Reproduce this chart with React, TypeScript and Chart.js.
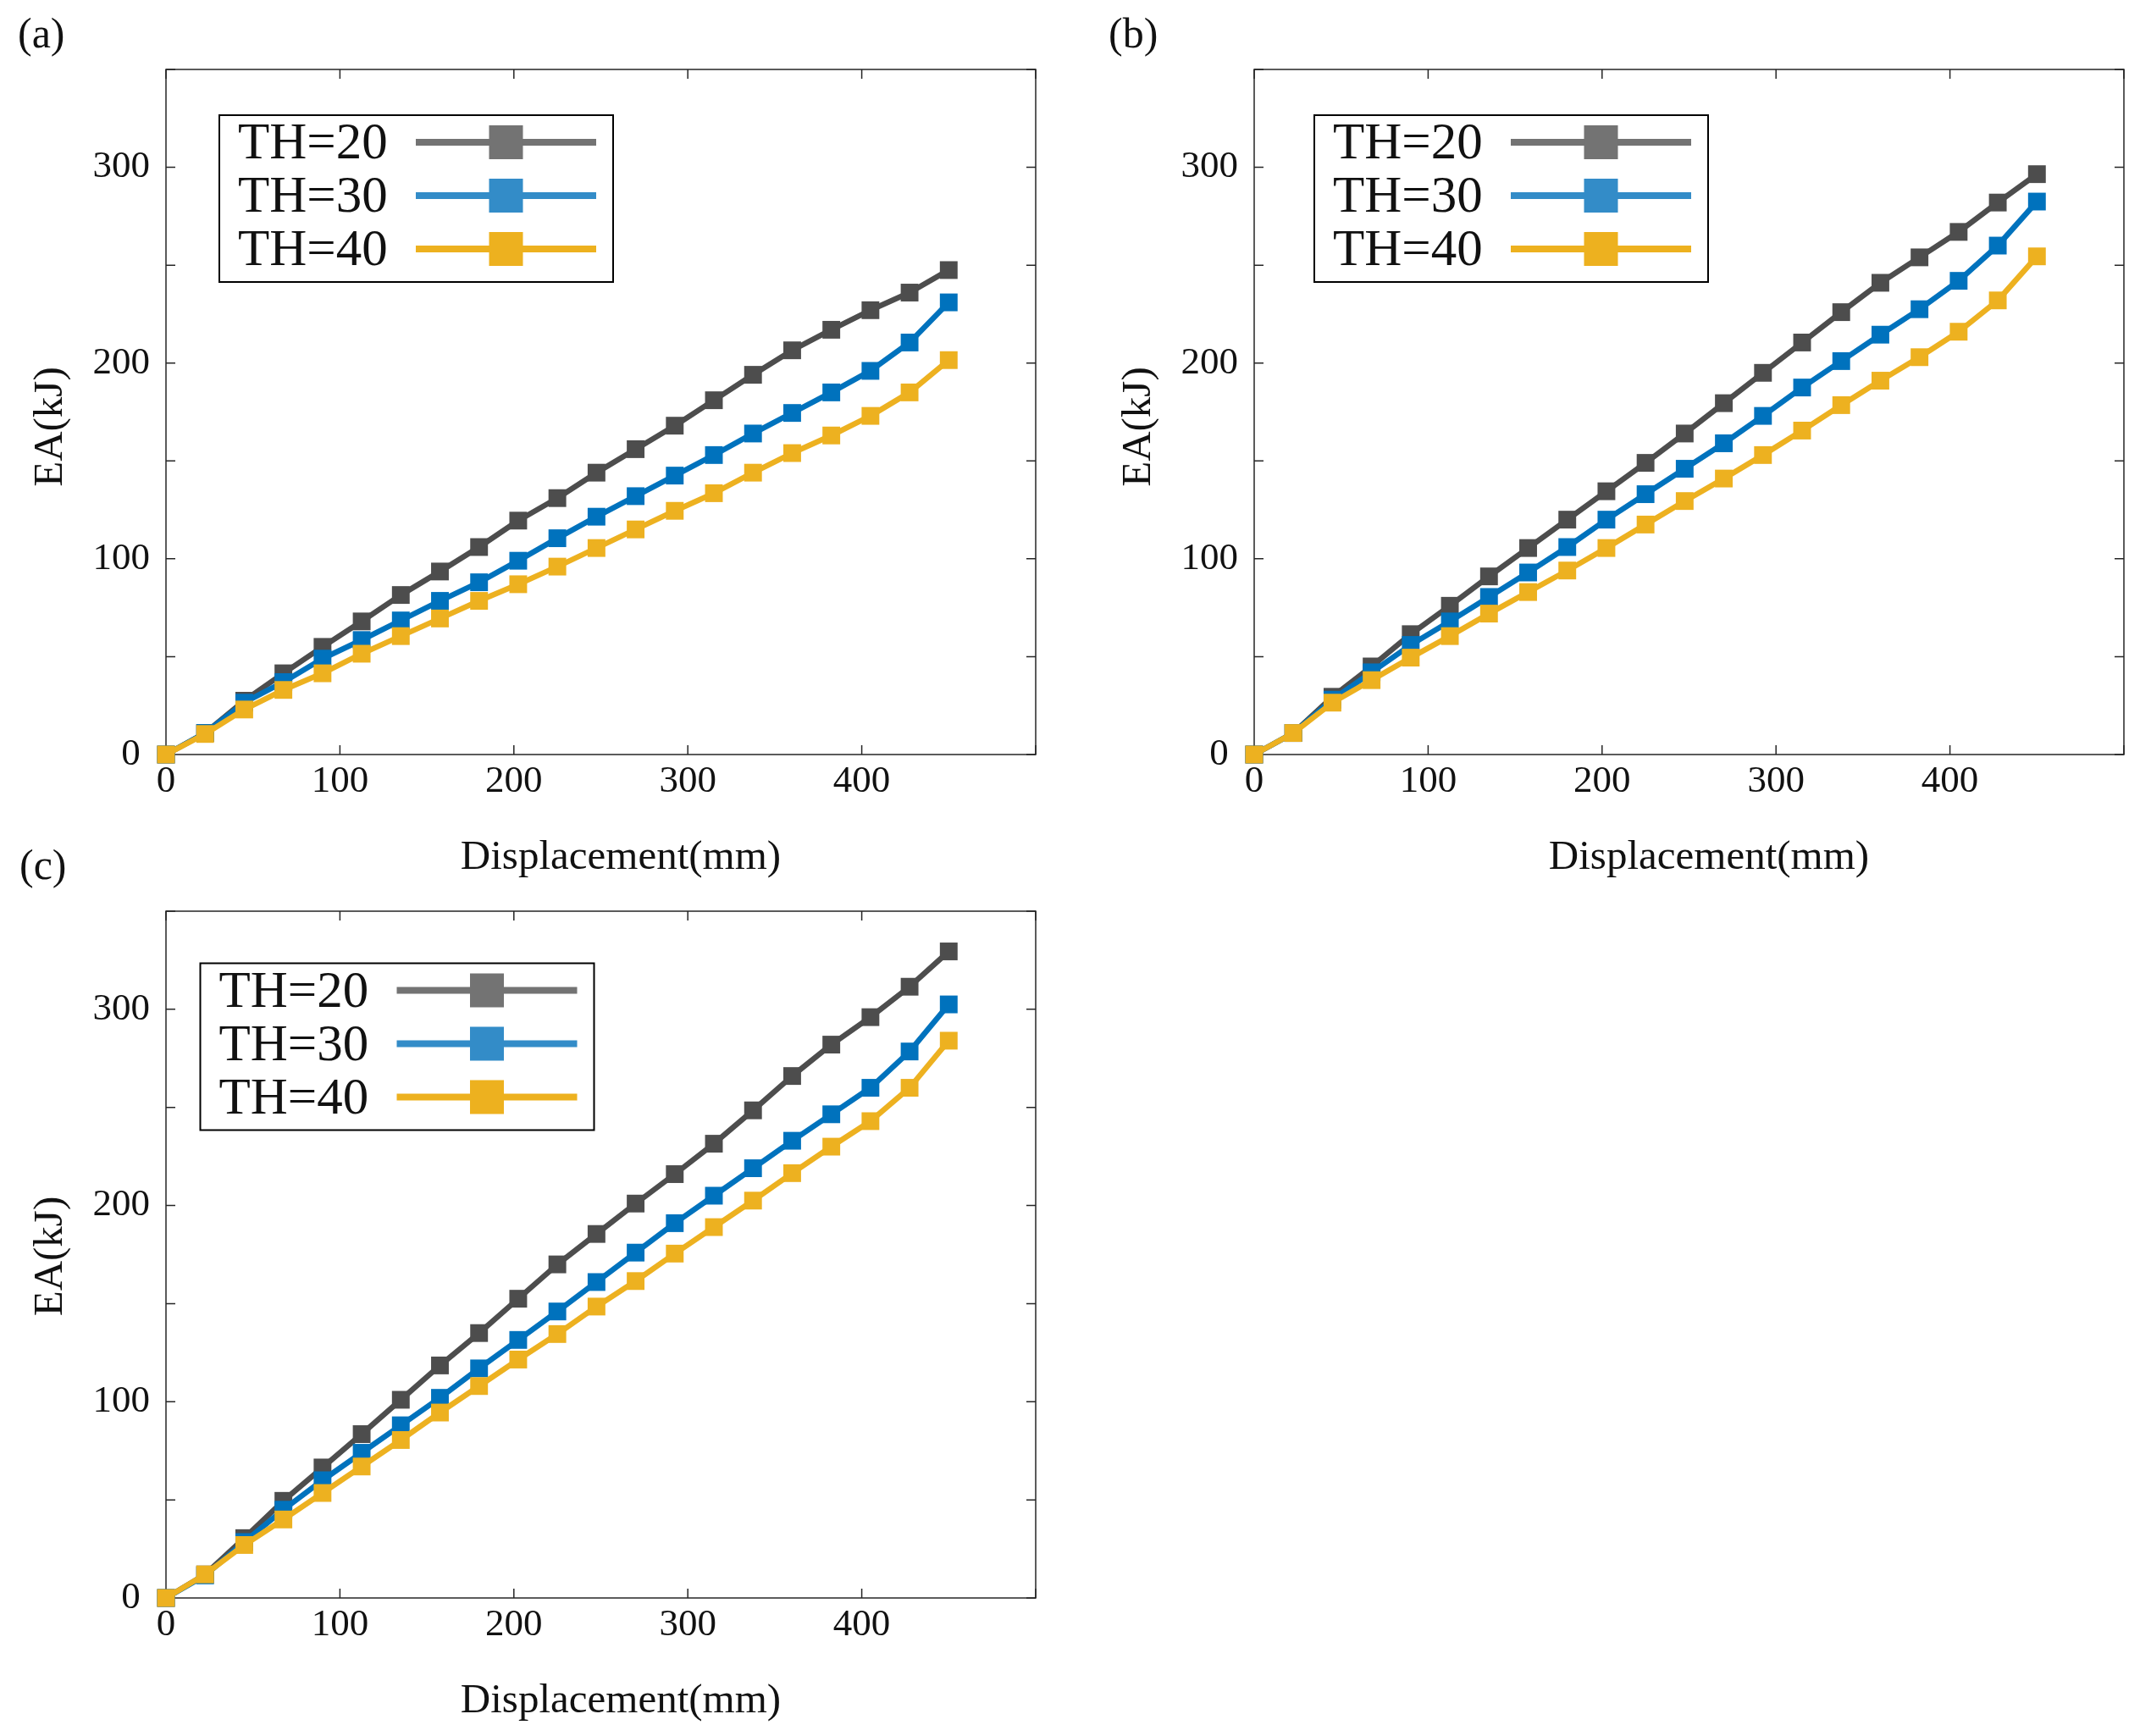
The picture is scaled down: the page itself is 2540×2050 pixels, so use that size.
import React, { useEffect, useRef } from 'react';
import { Chart, registerables } from 'chart.js';

Chart.register(...registerables);

// ---------------- data ----------------
const displacement = [0, 22.5, 45, 67.5, 90, 112.5, 135, 157.5, 180, 202.5, 225, 247.5, 270, 292.5, 315, 337.5, 360, 382.5, 405, 427.5, 450];

const seriesLabels = ['TH=20', 'TH=30', 'TH=40'];

const panelA_TH20 = [0, 11, 27.5, 41.5, 55, 68, 81.5, 93.5, 106, 119.5, 131, 144, 156, 168, 181, 194, 206.5, 217, 227, 236, 247.5];
const panelA_TH30 = [0, 11, 26.5, 37, 49, 58.5, 68.5, 78.5, 88, 99, 110.5, 121.5, 132, 142.5, 153, 164, 174.5, 185, 196, 210.5, 231];
const panelA_TH40 = [0, 10.5, 23, 33, 41.5, 51.5, 60.5, 69.5, 78.5, 87, 96, 105.5, 115, 124.5, 133.5, 144, 154, 163, 173, 185, 201.5];

const panelB_TH20 = [0, 11, 29.5, 45, 61.5, 76, 91, 105.5, 120, 134.5, 149, 164, 179.5, 195, 210.5, 226, 241, 254, 267, 282, 296.5];
const panelB_TH30 = [0, 11, 28, 42, 56, 68, 80.5, 93, 106, 120, 133, 146, 159, 173, 187.5, 201, 214.5, 227.5, 242, 260, 282.5];
const panelB_TH40 = [0, 11, 26.5, 38, 49.5, 60.5, 72, 83, 94, 105.5, 117.5, 129.5, 141, 153, 165.5, 178.5, 191, 203, 216, 232, 254.5];

const panelC_TH20 = [0, 12, 30.5, 49.5, 66.5, 83.5, 101, 118.5, 135, 152.5, 170, 185.5, 201, 216, 231.5, 248.5, 266, 282, 296, 311.5, 329.5];
const panelC_TH30 = [0, 11.5, 28.5, 45, 60, 74, 88, 102, 117, 131.5, 146, 161, 176, 191, 205, 219, 233, 246.5, 260, 278.5, 302.5];
const panelC_TH40 = [0, 12, 27, 40, 53.5, 67, 80.5, 94.5, 108, 121.5, 134.5, 148.5, 161.5, 175.5, 189, 202.5, 216.5, 230, 243, 260, 284];

const xTitle = 'Displacement(mm)';
const yTitle = 'EA(kJ)';
const xMin = 0;
const xMax = 500;
const xStep = 100;
const xLabelMax = 400;
const yMin = 0;
const yMax = 350;
const yStep = 50;
const yLabelStep = 100;

// ---------------- styles ----------------
const FONT = "'Liberation Serif', 'DejaVu Serif', serif";
const lineColors = ['#4D4D4D', '#0072BD', '#EDB120'];
const legendColors = ['#737373', '#338CC8', '#EDB11F'];
const AXIS_COLOR = '#262626';
const TEXT_COLOR = '#111111';
const TICK_LEN = 11;

type Panel = {
  label: string;
  series: number[][];
  left: number; top: number; w: number; h: number;
  area: { l: number; t: number; r: number; b: number };
  legend: { dx: number; dy: number };
  yTitleDy: number;
  labelPos: { x: number; y: number };
};

const panels: Panel[] = [
  {
    label: '(a)', series: [panelA_TH20, panelA_TH30, panelA_TH40],
    left: 0, top: 0, w: 1270, h: 1040,
    area: { l: 196, t: 82, r: 1223, b: 891 },
    legend: { dx: 63, dy: 54 }, yTitleDy: 17.5,
    labelPos: { x: 21, y: 56 },
  },
  {
    label: '(b)', series: [panelB_TH20, panelB_TH30, panelB_TH40],
    left: 1270, top: 0, w: 1270, h: 1040,
    area: { l: 211, t: 82, r: 1238, b: 891 },
    legend: { dx: 71, dy: 54 }, yTitleDy: 17.5,
    labelPos: { x: 39, y: 56 },
  },
  {
    label: '(c)', series: [panelC_TH20, panelC_TH30, panelC_TH40],
    left: 0, top: 960, w: 1270, h: 1090,
    area: { l: 196, t: 116, r: 1223, b: 927 },
    legend: { dx: 40.5, dy: 61.5 }, yTitleDy: 2,
    labelPos: { x: 23, y: 78 },
  },
];

function makePlugin(p: Panel) {
  return {
    id: 'frameAndLegend',
    beforeDatasetsDraw(chart: any) {
      const { ctx, chartArea: a, scales } = chart;
      ctx.save();
      ctx.strokeStyle = AXIS_COLOR;
      ctx.lineWidth = 1.5;
      ctx.strokeRect(a.left, a.top, a.right - a.left, a.bottom - a.top);
      ctx.beginPath();
      scales.x.ticks.forEach((t: any) => {
        const px = scales.x.getPixelForValue(t.value);
        ctx.moveTo(px, a.bottom);
        ctx.lineTo(px, a.bottom - TICK_LEN);
        ctx.moveTo(px, a.top);
        ctx.lineTo(px, a.top + TICK_LEN);
      });
      scales.y.ticks.forEach((t: any) => {
        const py = scales.y.getPixelForValue(t.value);
        ctx.moveTo(a.left, py);
        ctx.lineTo(a.left + TICK_LEN, py);
        ctx.moveTo(a.right, py);
        ctx.lineTo(a.right - TICK_LEN, py);
      });
      ctx.stroke();
      ctx.restore();
    },
    afterDatasetsDraw(chart: any) {
      const { ctx, chartArea: a } = chart;
      const bx = a.left + p.legend.dx;
      const by = a.top + p.legend.dy;
      const bw = 465;
      const bh = 197;
      ctx.save();
      ctx.fillStyle = '#ffffff';
      ctx.fillRect(bx, by, bw, bh);
      ctx.strokeStyle = '#000000';
      ctx.lineWidth = 2;
      ctx.strokeRect(bx, by, bw, bh);
      const rows = [32, 95, 158];
      seriesLabels.forEach((lab, i) => {
        const cy = by + rows[i];
        ctx.fillStyle = TEXT_COLOR;
        ctx.font = `61px ${FONT}`;
        ctx.textAlign = 'left';
        ctx.textBaseline = 'middle';
        ctx.fillText(lab, bx + 22, cy + 3);
        ctx.strokeStyle = legendColors[i];
        ctx.lineWidth = 8;
        ctx.beginPath();
        ctx.moveTo(bx + 232, cy);
        ctx.lineTo(bx + 445, cy);
        ctx.stroke();
        ctx.fillStyle = legendColors[i];
        ctx.fillRect(bx + 338.5 - 20, cy - 20, 40, 40);
      });
      ctx.restore();
    },
    afterDraw(chart: any) {
      const { ctx, chartArea: a } = chart;
      ctx.save();
      ctx.fillStyle = TEXT_COLOR;
      ctx.font = `49px ${FONT}`;
      ctx.textBaseline = 'alphabetic';
      ctx.textAlign = 'center';
      // x title
      ctx.fillText(xTitle, (a.left + a.right) / 2 + 23.5, a.bottom + 135);
      // y title
      ctx.save();
      ctx.translate(a.left - 122.7, (a.top + a.bottom) / 2 + p.yTitleDy);
      ctx.rotate(-Math.PI / 2);
      ctx.fillText(yTitle, 0, 0);
      ctx.restore();
      // panel label
      ctx.font = `50px ${FONT}`;
      ctx.textAlign = 'left';
      ctx.fillText(p.label, p.labelPos.x, p.labelPos.y);
      ctx.restore();
    },
  };
}

function PanelChart({ p }: { p: Panel }) {
  const ref = useRef<HTMLCanvasElement | null>(null);
  useEffect(() => {
    if (!ref.current) return;
    const datasets = p.series.map((vals, i) => ({
      label: seriesLabels[i],
      data: displacement.map((x, j) => ({ x, y: vals[j] })),
      borderColor: lineColors[i],
      backgroundColor: lineColors[i],
      borderWidth: 6.5,
      borderJoinStyle: 'round' as const,
      pointStyle: 'rect' as const,
      pointRadius: 14.8,
      pointHoverRadius: 14.8,
      pointBorderWidth: 0,
      pointBackgroundColor: lineColors[i],
      tension: 0,
      clip: false as any,
      order: 2 - i,
    }));
    const tickFont = { family: FONT, size: 45 };
    const chart = new Chart(ref.current, {
      type: 'line',
      data: { datasets },
      options: {
        animation: false,
        responsive: false,
        devicePixelRatio: 1,
        events: [],
        layout: {
          padding: { left: 0, top: p.area.t, right: p.w - p.area.r, bottom: 0 },
        },
        plugins: { legend: { display: false }, tooltip: { enabled: false }, title: { display: false } },
        scales: {
          x: {
            type: 'linear',
            min: xMin,
            max: xMax,
            grid: { display: false, drawTicks: false },
            border: { display: false },
            ticks: {
              stepSize: xStep,
              autoSkip: false,
              maxRotation: 0,
              padding: 5,
              color: TEXT_COLOR,
              font: tickFont,
              callback: (v: any) => (Number(v) <= xLabelMax ? String(v) : ''),
            },
            afterFit: (s: any) => { s.height = p.h - p.area.b; },
          },
          y: {
            type: 'linear',
            min: yMin,
            max: yMax,
            grid: { display: false, drawTicks: false },
            border: { display: false },
            ticks: {
              stepSize: yStep,
              autoSkip: false,
              padding: 19,
              color: TEXT_COLOR,
              font: tickFont,
              callback: (v: any) => (Number(v) % yLabelStep === 0 ? (Number(v) === 0 ? '0 ' : String(v)) : ''),
            },
            afterFit: (s: any) => { s.width = p.area.l; },
          },
        },
      },
      plugins: [makePlugin(p)],
    });
    return () => chart.destroy();
  }, [p]);
  return (
    <canvas
      ref={ref}
      width={p.w}
      height={p.h}
      style={{ position: 'absolute', left: p.left, top: p.top, width: p.w, height: p.h }}
    />
  );
}

export default function App() {
  return (
    <div style={{ position: 'absolute', left: 0, top: 0, width: 2540, height: 2050, background: '#ffffff', overflow: 'hidden' }}>
      {panels.map((p) => (
        <PanelChart key={p.label} p={p} />
      ))}
    </div>
  );
}
